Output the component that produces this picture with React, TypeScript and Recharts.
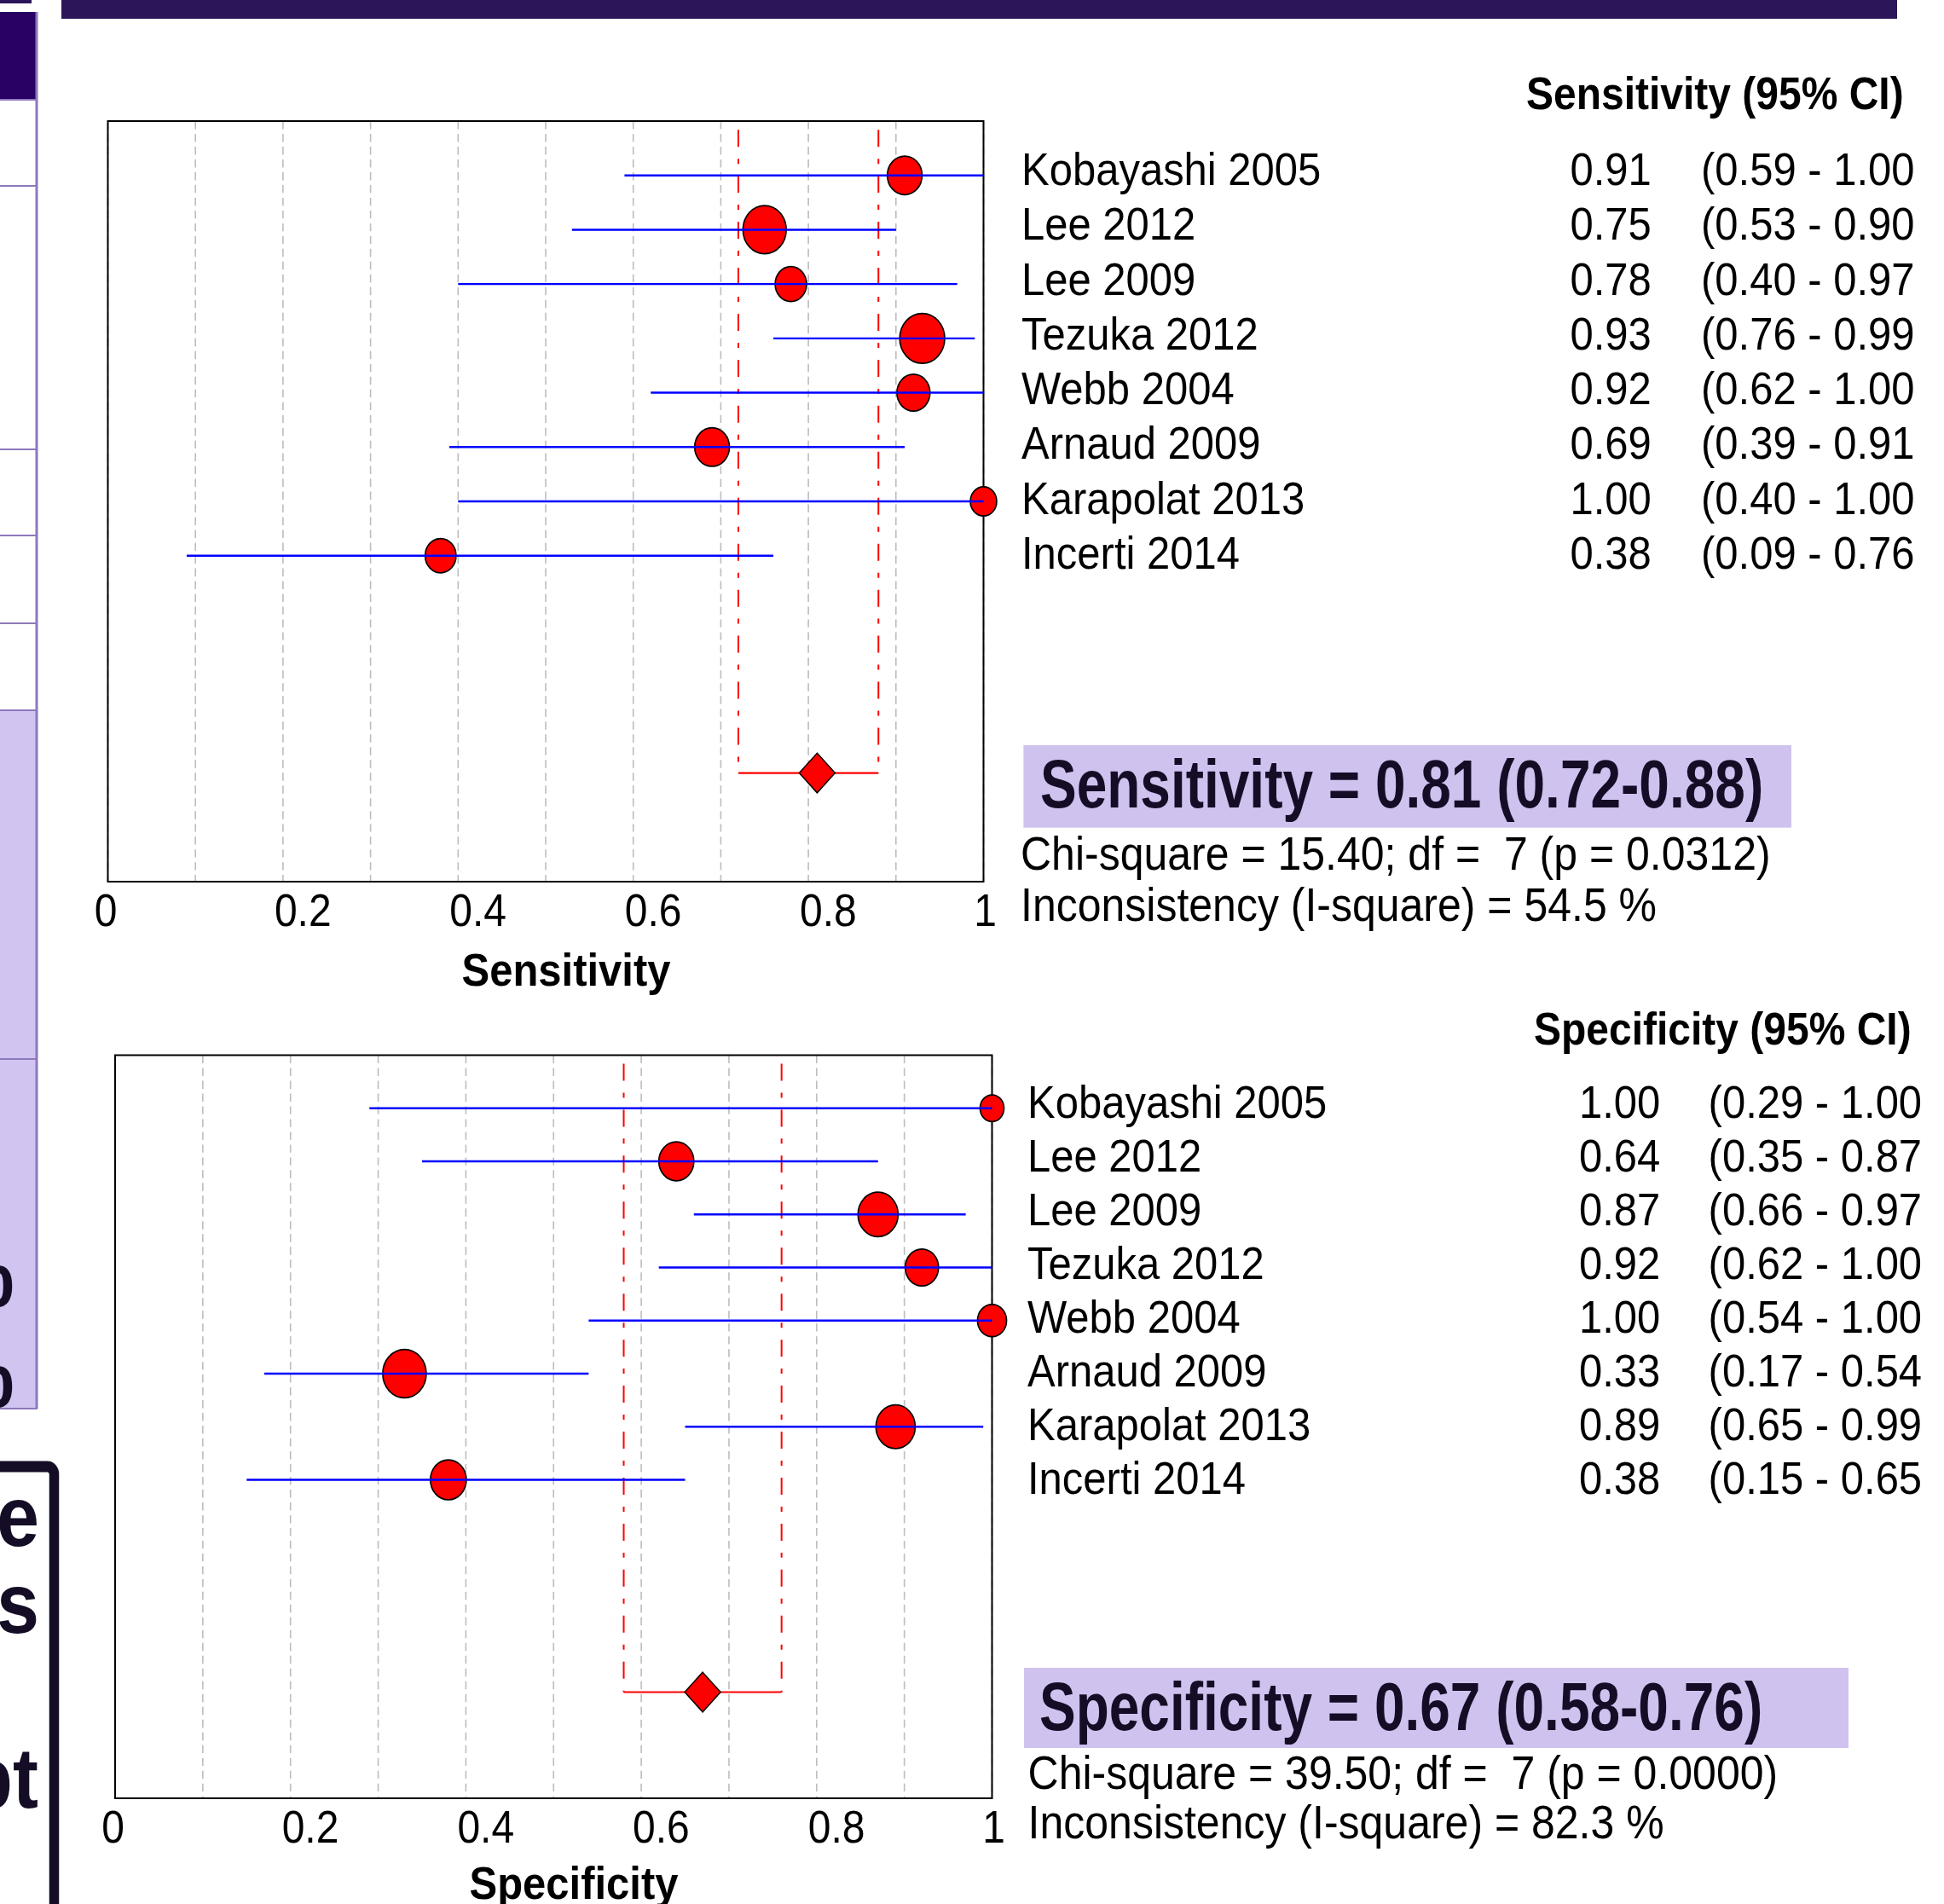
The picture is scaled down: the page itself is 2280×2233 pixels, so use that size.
import React from 'react';
import { ScatterChart, Scatter, XAxis, YAxis, ZAxis, CartesianGrid, ReferenceLine, ReferenceArea } from 'recharts';

// the source picture is stretched vertically, so everything is drawn flat and scaled at the end
const S = 1.11;
const u = (v: number) => v / S;
const FONT = '"Liberation Sans", Arial, sans-serif';
const INK = '#150d26';

const studies = ['Kobayashi 2005', 'Lee 2012', 'Lee 2009', 'Tezuka 2012', 'Webb 2004', 'Arnaud 2009', 'Karapolat 2013', 'Incerti 2014'];

const sensEst = [0.91, 0.75, 0.78, 0.93, 0.92, 0.69, 1.0, 0.38];
const sensLo = [0.59, 0.53, 0.40, 0.76, 0.62, 0.39, 0.40, 0.09];
const sensHi = [1.0, 0.90, 0.97, 0.99, 1.0, 0.91, 1.0, 0.76];
const sensWeight = [12.0, 18.6, 9.8, 20.1, 10.9, 12.0, 6.9, 9.5];
const sensPooled = [0.81, 0.72, 0.88];
const sensStats = ['15.40', '7', '0.0312', '54.5'];

const specEst = [1.0, 0.64, 0.87, 0.92, 1.0, 0.33, 0.89, 0.38];
const specLo = [0.29, 0.35, 0.66, 0.62, 0.54, 0.17, 0.65, 0.15];
const specHi = [1.0, 0.87, 0.97, 1.0, 1.0, 0.54, 0.99, 0.65];
const specWeight = [5.7, 12.2, 16.0, 11.0, 8.4, 18.8, 15.3, 12.8];
const specPooled = [0.67, 0.58, 0.76];
const specStats = ['39.50', '7', '0.0000', '82.3'];

const xTicks = [0, 0.1, 0.2, 0.3, 0.4, 0.5, 0.6, 0.7, 0.8, 0.9, 1];
const labelTicks = [0, 0.2, 0.4, 0.6, 0.8, 1];
const tickLabels = ['0', '0.2', '0.4', '0.6', '0.8', '1'];
const POOLED_ROW = 12;
const AXIS_H = 60;

const XTick = (props: any) => {
  const { x, y, payload } = props;
  const v = payload.value;
  const idx = labelTicks.indexOf(v);
  if (idx < 0) return <g />;
  const anchor = v === 0 || v === 1 ? 'middle' : 'start';
  const dx = v === 0 ? -2.5 : v === 1 ? 2 : -10;
  return (
    <text x={x + dx} y={y} dy={46} textAnchor={anchor} fontSize={48} fontFamily={FONT} fill="#000">
      {tickLabels[idx]}
    </text>
  );
};

const StudyDot = (props: any) => {
  const { cx, cy, width } = props;
  return <ellipse cx={cx} cy={cy} rx={width / 2} ry={width / 2} fill="#ff0000" stroke="#000" strokeWidth={1.6} />;
};

const Diamond = (props: any) => {
  const { cx, cy } = props;
  const r = 21;
  return <polygon points={`${cx},${cy - r} ${cx + r},${cy} ${cx},${cy + r} ${cx - r},${cy}`} fill="#ff0000" stroke="#000" strokeWidth={1.4} />;
};

const NoDot = () => <g />;

function ForestPlot({ est, lo, hi, weight, pooled, left, top, width, height, margin }: any) {
  const rows = est.map((e: number, i: number) => ({ x: e, y: i + 1, w: weight[i] }));
  const ciRows = est.map((_: number, i: number) => [
    { x: lo[i], y: i + 1, w: 0 },
    { x: hi[i], y: i + 1, w: 0 },
  ]);
  const pooledRow = [{ x: pooled[0], y: POOLED_ROW, w: 0 }];
  const redDash = '18 12.6 5.4 12.6';
  return (
    <div style={{ position: 'absolute', left, top, width, height }}>
      <ScatterChart width={width} height={height} margin={{ ...margin, bottom: margin.bottom - AXIS_H }}>
        <CartesianGrid horizontal={false} stroke="#bdbdbd" strokeDasharray="8.5 5" strokeWidth={1.6} />
        <XAxis type="number" dataKey="x" domain={[0, 1]} ticks={xTicks} interval={0} height={AXIS_H} tickSize={1} tickMargin={0} axisLine={false} tickLine={false} tick={<XTick />} />
        <YAxis type="number" dataKey="y" domain={[0, 14]} reversed hide width={0} />
        <ZAxis type="number" dataKey="w" domain={[0, 100]} range={[0, 10900]} />
        <ReferenceArea x1={0} x2={1} y1={0} y2={14} fill="none" fillOpacity={0} stroke="#000" strokeWidth={2} />
        <ReferenceLine segment={[{ x: pooled[1], y: 0.16 }, { x: pooled[1], y: POOLED_ROW }]} stroke="#ff0000" strokeWidth={2} strokeDasharray={redDash} />
        <ReferenceLine segment={[{ x: pooled[2], y: 0.16 }, { x: pooled[2], y: POOLED_ROW }]} stroke="#ff0000" strokeWidth={2} strokeDasharray={redDash} />
        <ReferenceLine segment={[{ x: pooled[1], y: POOLED_ROW }, { x: pooled[2], y: POOLED_ROW }]} stroke="#ff0000" strokeWidth={2} />
        <Scatter data={rows} shape={<StudyDot />} isAnimationActive={false} />
        {ciRows.map((d: any, i: number) => (
          <Scatter key={i} data={d} shape={<NoDot />} line={{ stroke: '#0000ff', strokeWidth: 2.2 }} isAnimationActive={false} />
        ))}
        <Scatter data={pooledRow} shape={<Diamond />} isAnimationActive={false} />
      </ScatterChart>
    </div>
  );
}

function Panel({ header, est, lo, hi, pooled, stats, label, p }: any) {
  return (
    <g fontFamily={FONT}>
      <text x={p.headerX} y={p.headerY} fontSize={48} fontWeight="bold" fill="#000">{header}</text>
      {studies.map((s, i) => (
        <g key={s}>
          <text x={p.nameX} y={p.rowY0 + i * p.rowStep} fontSize={49} fill="#000">{s}</text>
          <text x={p.valX} y={p.rowY0 + i * p.rowStep} fontSize={49} fill="#000">{est[i].toFixed(2)}</text>
          <text x={p.ciX} y={p.rowY0 + i * p.rowStep} fontSize={49} fill="#000">{`(${lo[i].toFixed(2)} - ${hi[i].toFixed(2)}`}</text>
        </g>
      ))}
      <rect x={p.boxX} y={p.boxY} width={p.boxW} height={p.boxH} fill="#d0c2ef" />
      <text transform={`translate(${p.sumX},${p.sumY}) scale(1,1.125)`} fontSize={64} fontWeight="bold" fill={INK}>
        {`${label} = ${pooled[0].toFixed(2)} (${pooled[1].toFixed(2)}-${pooled[2].toFixed(2)})`}
      </text>
      <text x={p.chiX} y={p.chiY} fontSize={50} fill="#000" style={{ whiteSpace: 'pre' }}>
        {`Chi-square = ${stats[0]}; df =  ${stats[1]} (p = ${stats[2]})`}
      </text>
      <text x={p.chiX} y={p.incY} fontSize={50} fill="#000" style={{ whiteSpace: 'pre' }}>
        {`Inconsistency (I-square) = ${stats[3]} %`}
      </text>
    </g>
  );
}

const topPanel = {
  headerX: 1790, headerY: u(128.4), nameX: 1198, valX: 1841.5, ciX: 1995, rowY0: u(217), rowStep: u(64.3),
  boxX: 1200.4, boxY: u(874), boxW: 900.6, boxH: u(96.7), sumX: 1220, sumY: u(946.7),
  chiX: 1197, chiY: u(1020), incY: u(1080),
};
const bottomPanel = {
  headerX: 1799, headerY: u(1225.5), nameX: 1205, valX: 1852, ciX: 2003.6, rowY0: u(1311), rowStep: u(62.96),
  boxX: 1201, boxY: u(1956), boxW: 967, boxH: u(94), sumX: 1219, sumY: u(2028.7),
  chiX: 1205.6, chiY: u(2098), incY: u(2156),
};

const tableLines = [117, 218, 527, 628, 731, 833, 1242, 1652];

export default function App() {
  const H0 = 2233 / S;
  return (
    <div style={{ position: 'absolute', left: 0, top: 0, width: 2280, height: 2233, overflow: 'hidden', background: '#fff' }}>
      <div style={{ position: 'absolute', left: 0, top: 0, width: 2280, height: H0, transform: `scaleY(${S})`, transformOrigin: '0 0' }}>
        <svg width={2280} height={H0} style={{ position: 'absolute', left: 0, top: 0 }}>
          {/* slide remnants around the chart */}
          <rect x={72} y={0} width={2153} height={u(22)} fill="#2c1558" />
          <rect x={0} y={0} width={37} height={u(4)} fill="#2c1558" />
          <rect x={0} y={u(14)} width={42} height={u(103)} fill="#290064" />
          <rect x={0} y={u(833)} width={42} height={u(819)} fill="#d1c4f1" />
          {tableLines.map((t) => (
            <line key={t} x1={0} x2={44} y1={u(t)} y2={u(t)} stroke="#8e78bb" strokeWidth={1.8} />
          ))}
          <line x1={43} x2={43} y1={u(14)} y2={u(1652)} stroke="#8e78bb" strokeWidth={3} />
          <g fontFamily={FONT} fontWeight="bold" fill={INK}>
            <text x={17} y={u(1532)} fontSize={100} textAnchor="end">%</text>
            <text x={17} y={u(1650)} fontSize={100} textAnchor="end">%</text>
          </g>
          <rect x={-60} y={u(1720)} width={123.5} height={700} rx={8} fill="none" stroke={INK} strokeWidth={11.5} />
          <g fontFamily={FONT} fontWeight="bold" fill={INK} fontSize={90} textAnchor="end">
            <text x={46} y={u(1813)}>e</text>
            <text x={46} y={u(1915)}>s</text>
            <text x={45} y={u(2120)}>pt</text>
          </g>

          <Panel header="Sensitivity (95% CI)" est={sensEst} lo={sensLo} hi={sensHi} pooled={sensPooled} stats={sensStats} label="Sensitivity" p={topPanel} />
          <Panel header="Specificity (95% CI)" est={specEst} lo={specLo} hi={specHi} pooled={specPooled} stats={specStats} label="Specificity" p={bottomPanel} />

          <text x={664} y={u(1156)} fontFamily={FONT} fontSize={49} fontWeight="bold" textAnchor="middle" fill="#000">Sensitivity</text>
          <text x={673} y={u(2226.6)} fontFamily={FONT} fontSize={49} fontWeight="bold" textAnchor="middle" fill="#000">Specificity</text>
        </svg>

        <ForestPlot est={sensEst} lo={sensLo} hi={sensHi} weight={sensWeight} pooled={sensPooled}
          left={0} top={60} width={1200} height={1010}
          margin={{ left: 126.5, right: 46.5, top: u(142) - 60, bottom: 1070 - u(1034) }} />
        <ForestPlot est={specEst} lo={specLo} hi={specHi} weight={specWeight} pooled={specPooled}
          left={0} top={1080} width={1210} height={H0 - 1080}
          margin={{ left: 135, right: 46.5, top: u(1237.5) - 1080, bottom: H0 - u(2109) }} />
      </div>
    </div>
  );
}
